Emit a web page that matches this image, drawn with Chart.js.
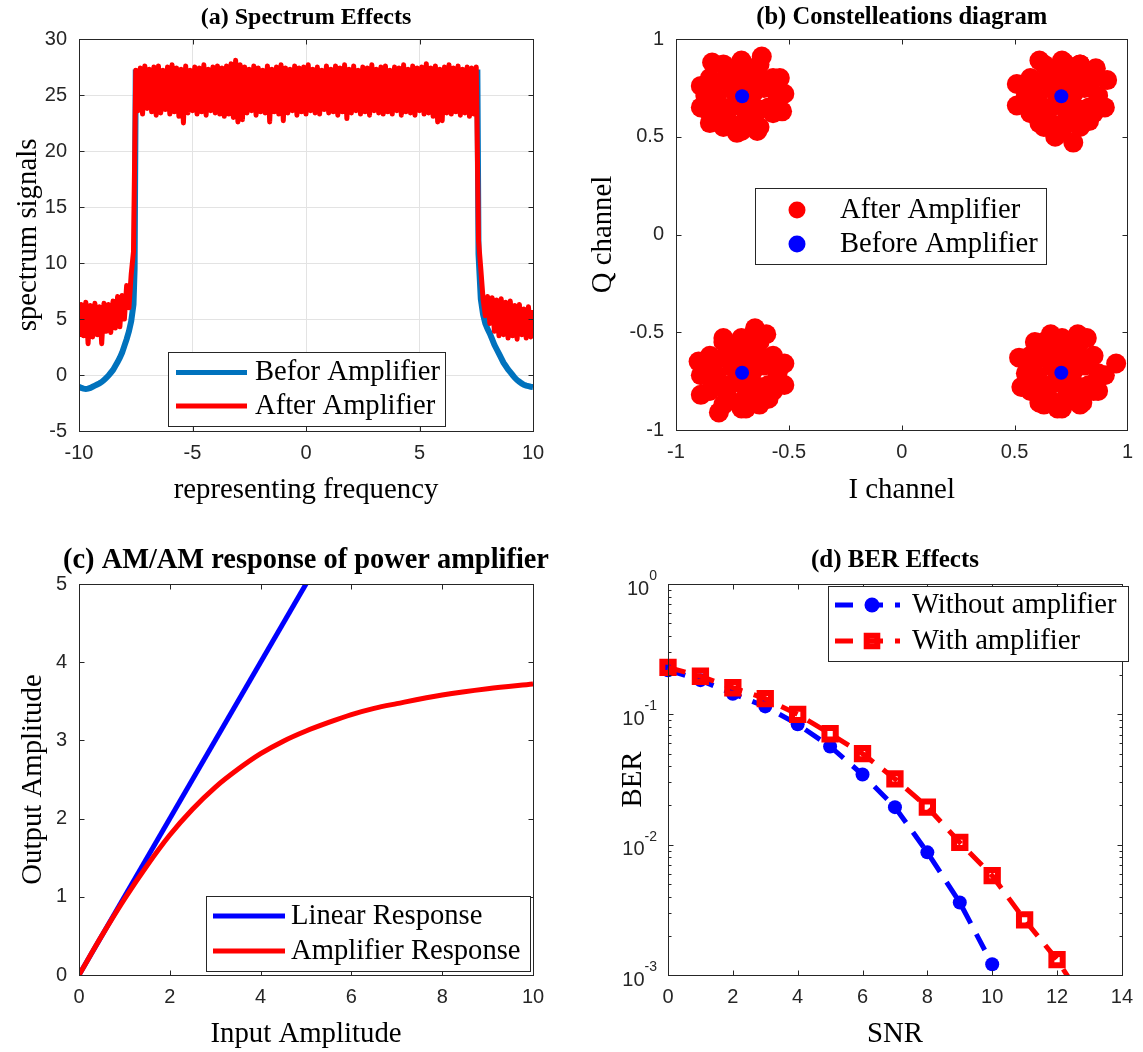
<!DOCTYPE html>
<html>
<head>
<meta charset="utf-8">
<title>Power amplifier effects</title>
<script src="https://cdn.jsdelivr.net/npm/chart.js@4.4.1/dist/chart.umd.min.js"></script>
<style>
  html, body { margin: 0; padding: 0; background: #fff; overflow: hidden; }
  #page { position: relative; width: 1143px; height: 1052px; }
  canvas { position: absolute; }
</style>
</head>
<body>
<div id="page">
  <canvas id="spectrumChart" width="571" height="526" style="left:0;top:0;width:571px;height:526px"></canvas>
  <canvas id="constChart" width="572" height="526" style="left:571px;top:0;width:572px;height:526px"></canvas>
  <canvas id="amamChart" width="571" height="526" style="left:0;top:526px;width:571px;height:526px"></canvas>
  <canvas id="berChart" width="572" height="526" style="left:571px;top:526px;width:572px;height:526px"></canvas>
</div>
<script>
// ---- (a) spectrum ----
// input spectrum, smooth skirts and flat passband
const beforeFreq = [
  -10, -9.9, -9.8, -9.7, -9.6, -9.5, -9.4, -9.3, -9.2, -9.1, -9.0, -8.9, -8.8, -8.7,
  -8.6, -8.5, -8.4, -8.3, -8.2, -8.1, -8.0, -7.9, -7.8, -7.7, -7.6, -7.55, -7.5,
  7.55, 7.6, 7.7, 7.8, 7.9, 8.0, 8.1, 8.2, 8.3, 8.4, 8.5, 8.6, 8.7, 8.8, 8.9, 9.0,
  9.1, 9.2, 9.3, 9.4, 9.5, 9.6, 9.7, 9.8, 9.9, 10
];
const beforeLevel = [
  -1.05, -1.15, -1.22, -1.25, -1.22, -1.15, -1.05, -0.95, -0.85, -0.75, -0.62, -0.45, -0.25, -0.05,
  0.2, 0.45, 0.8, 1.15, 1.55, 2.0, 2.6, 3.2, 3.9, 4.8, 6.3, 9.5, 27.0,
  27.0, 10.8, 6.8, 5.4, 4.6, 4.1, 3.7, 3.2, 2.7, 2.3, 1.9, 1.5, 1.1, 0.8, 0.5, 0.25,
  0.0, -0.25, -0.45, -0.6, -0.75, -0.87, -0.95, -1.0, -1.05, -1.08
];
// amplified spectrum, sampled every 0.1 from -10 to 10
const freqStep = 0.1;
const afterLevel = [
  3.4, 6.3, 3.5, 6.5, 2.8, 6.2, 3.4, 6.4, 3.6, 6.1,
  2.8, 6.4, 3.9, 6.3, 3.8, 6.6, 4.2, 7.0, 4.3, 7.1,
  5.0, 8.0, 6.0, 9.0, 11.0,
  27.2, 23.6, 27.4, 23.3, 27.6, 23.8, 27.3, 23.5, 27.5, 23.2,
  27.6, 23.4, 27.2, 23.7, 27.5, 23.3, 27.7, 23.5, 27.4, 23.1,
  27.3, 22.5, 27.6, 23.4, 27.2, 23.6, 27.5, 23.3, 27.4, 23.5,
  27.7, 23.2, 27.3, 23.6, 27.5, 23.4, 27.6, 23.3, 27.4, 23.1,
  27.6, 23.3, 27.8, 23.0, 28.1, 22.6, 27.7, 22.8, 27.5, 23.4,
  27.3, 23.6, 27.6, 23.2, 27.4, 23.5, 27.2, 23.4, 27.6, 22.6,
  27.3, 23.5, 27.5, 23.3, 27.7, 22.7, 27.4, 23.4, 27.3, 23.6,
  27.6, 23.2, 27.4, 23.5, 27.5, 23.3, 27.7, 23.6, 27.3, 23.4,
  27.5, 23.3, 27.2, 23.7, 27.6, 23.4, 27.3, 23.5, 27.6, 23.2,
  27.4, 23.5, 27.7, 22.9, 27.3, 23.4, 27.6, 23.6, 27.2, 23.3,
  27.5, 23.5, 27.4, 23.2, 27.7, 23.6, 27.3, 23.4, 27.5, 23.3,
  27.6, 23.5, 27.2, 23.3, 27.5, 23.6, 27.4, 23.2, 27.7, 23.5,
  27.3, 23.4, 27.6, 23.2, 27.4, 23.6, 27.5, 23.3, 27.8, 23.4,
  27.4, 23.1, 27.6, 22.6, 27.3, 22.7, 27.5, 23.4, 27.7, 23.3,
  27.4, 23.5, 27.6, 23.2, 27.3, 23.4, 27.5, 23.1, 27.4, 23.3,
  27.5, 12.0,
  9.5, 6.8, 5.3, 7.0, 4.6, 6.9, 3.9, 6.7, 3.5, 6.8,
  3.6, 6.5, 3.3, 6.6, 3.5, 6.2, 3.2, 6.3, 3.6, 5.9,
  3.3, 6.1, 3.4, 5.8
];
const afterFreq = afterLevel.map((_, i) => +(-10 + i * freqStep).toFixed(2));

// ---- (b) constellation ----
const symbolI = [-0.7071, 0.7071, -0.7071, 0.7071];
const symbolQ = [0.7071, 0.7071, -0.7071, -0.7071];
const rxUpperLeft = [
  [-0.71, 0.71], [-0.66, 0.72], [-0.75, 0.74], [-0.70, 0.65], [-0.73, 0.77],
  [-0.66, 0.77], [-0.76, 0.77], [-0.76, 0.65], [-0.66, 0.65],
  [-0.61, 0.75], [-0.64, 0.81], [-0.72, 0.83], [-0.79, 0.79], [-0.82, 0.70], [-0.78, 0.62], [-0.69, 0.59], [-0.63, 0.64],
  [-0.59, 0.77], [-0.66, 0.85], [-0.76, 0.85], [-0.83, 0.77], [-0.83, 0.65], [-0.76, 0.57], [-0.66, 0.57], [-0.59, 0.65],
  [-0.55, 0.71], [-0.57, 0.80], [-0.63, 0.87], [-0.71, 0.89], [-0.79, 0.87], [-0.85, 0.80], [-0.87, 0.71],
  [-0.85, 0.62], [-0.79, 0.55], [-0.71, 0.53], [-0.63, 0.55], [-0.57, 0.62],
  [-0.62, 0.91], [-0.84, 0.88], [-0.89, 0.76], [-0.89, 0.65], [-0.85, 0.57], [-0.73, 0.52],
  [-0.64, 0.53], [-0.54, 0.80], [-0.52, 0.72], [-0.53, 0.63]
];
const rxUpperRight = [
  [0.71, 0.71], [0.76, 0.72], [0.67, 0.74], [0.72, 0.65], [0.69, 0.77],
  [0.76, 0.77], [0.66, 0.77], [0.66, 0.65], [0.76, 0.65],
  [0.81, 0.75], [0.78, 0.81], [0.70, 0.83], [0.63, 0.79], [0.60, 0.70], [0.64, 0.62], [0.73, 0.59], [0.79, 0.64],
  [0.83, 0.77], [0.76, 0.85], [0.66, 0.85], [0.59, 0.77], [0.59, 0.65], [0.66, 0.57], [0.76, 0.57], [0.83, 0.65],
  [0.87, 0.71], [0.85, 0.80], [0.79, 0.87], [0.71, 0.89], [0.63, 0.87], [0.57, 0.80], [0.55, 0.71],
  [0.57, 0.62], [0.63, 0.55], [0.71, 0.53], [0.79, 0.55], [0.85, 0.62],
  [0.61, 0.89], [0.72, 0.88], [0.79, 0.87], [0.86, 0.85], [0.91, 0.79], [0.90, 0.65],
  [0.83, 0.58], [0.76, 0.47], [0.68, 0.50], [0.51, 0.77], [0.51, 0.66], [0.61, 0.57]
];
const rxLowerLeft = [
  [-0.71, -0.71], [-0.66, -0.70], [-0.75, -0.68], [-0.70, -0.77], [-0.73, -0.65],
  [-0.66, -0.65], [-0.76, -0.65], [-0.76, -0.77], [-0.66, -0.77],
  [-0.61, -0.67], [-0.64, -0.61], [-0.72, -0.59], [-0.79, -0.63], [-0.82, -0.72], [-0.78, -0.80], [-0.69, -0.83], [-0.63, -0.78],
  [-0.59, -0.65], [-0.66, -0.57], [-0.76, -0.57], [-0.83, -0.65], [-0.83, -0.77], [-0.76, -0.85], [-0.66, -0.85], [-0.59, -0.77],
  [-0.55, -0.71], [-0.57, -0.62], [-0.63, -0.55], [-0.71, -0.53], [-0.79, -0.55], [-0.85, -0.62], [-0.87, -0.71],
  [-0.85, -0.80], [-0.79, -0.87], [-0.71, -0.89], [-0.63, -0.87], [-0.57, -0.80],
  [-0.65, -0.48], [-0.79, -0.53], [-0.60, -0.51], [-0.90, -0.65], [-0.89, -0.82], [-0.52, -0.66],
  [-0.52, -0.77], [-0.81, -0.91], [-0.69, -0.89], [-0.59, -0.84], [-0.89, -0.72]
];
const rxLowerRight = [
  [0.71, -0.71], [0.76, -0.70], [0.67, -0.68], [0.72, -0.77], [0.69, -0.65],
  [0.76, -0.65], [0.66, -0.65], [0.66, -0.77], [0.76, -0.77],
  [0.81, -0.67], [0.78, -0.61], [0.70, -0.59], [0.63, -0.63], [0.60, -0.72], [0.64, -0.80], [0.73, -0.83], [0.79, -0.78],
  [0.83, -0.65], [0.76, -0.57], [0.66, -0.57], [0.59, -0.65], [0.59, -0.77], [0.66, -0.85], [0.76, -0.85], [0.83, -0.77],
  [0.87, -0.71], [0.85, -0.62], [0.79, -0.55], [0.71, -0.53], [0.63, -0.55], [0.57, -0.62], [0.55, -0.71],
  [0.57, -0.80], [0.63, -0.87], [0.71, -0.89], [0.79, -0.87], [0.85, -0.80],
  [0.66, -0.51], [0.78, -0.51], [0.82, -0.53], [0.95, -0.66], [0.90, -0.72], [0.87, -0.80],
  [0.80, -0.86], [0.69, -0.89], [0.61, -0.86], [0.52, -0.63], [0.53, -0.78], [0.59, -0.55]
];

// ---- (c) AM/AM ----
const linearIn = [0, 10];
const linearOut = [0, 10];
const ampIn = [0, 0.5, 1, 1.5, 2, 2.5, 3, 3.5, 4, 4.5, 5, 5.5, 6, 6.5, 7, 8, 9, 10];
const ampOut = [0, 0.5, 0.97, 1.40, 1.79, 2.12, 2.40, 2.63, 2.83, 2.99, 3.12, 3.23, 3.33, 3.41, 3.47, 3.58, 3.66, 3.72];

// ---- (d) BER ----
const snrDb = [0, 1, 2, 3, 4, 5, 6, 7, 8, 9, 10, 11, 12, 13];
const berWithout = [0.218, 0.183, 0.144, 0.115, 0.0838, 0.0567, 0.0345, 0.0194, 0.00873, 0.0036, 0.00121];
const berWith = [0.229, 0.196, 0.160, 0.132, 0.100, 0.071, 0.0499, 0.032, 0.0194, 0.0104, 0.00578, 0.00265, 0.00131, 0.00054];
const berDecades = [0, -1, -2, -3];

const AXIS_COLOR = "#262626";
const GRID_COLOR = "#e3e3e3";
const SERIF = "'Liberation Serif', 'Times New Roman', serif";
const SANS = "'Liberation Sans', Arial, sans-serif";

function toPoints(xs, ys) {
  return ys.map((y, i) => ({ x: xs[i], y: y }));
}
function pairsToPoints(pairs) {
  return pairs.map(p => ({ x: p[0], y: p[1] }));
}

// bold title centred over the plot area (may run wider than the axes)
function plotTitle(cfg) {
  return {
    id: "plotTitle",
    afterDraw(chart) {
      const ctx = chart.ctx;
      const a = chart.chartArea;
      ctx.save();
      ctx.fillStyle = "#000";
      ctx.font = "bold " + cfg.size + "px " + SERIF;
      ctx.textAlign = "center";
      ctx.textBaseline = "middle";
      ctx.fillText(cfg.text, (a.left + a.right) / 2, cfg.y);
      ctx.restore();
    }
  };
}

// box around the plot area, with tick marks pointing inwards on all sides
function boxTicks(cfg) {
  return {
    id: "boxTicks",
    afterDatasetsDraw(chart) {
      const ctx = chart.ctx;
      const a = chart.chartArea;
      const xs = chart.scales.x;
      const ys = chart.scales.y;
      const L = Math.round(a.left) + 0.5, R = Math.round(a.right) + 0.5;
      const T = Math.round(a.top) + 0.5, B = Math.round(a.bottom) + 0.5;
      ctx.save();
      ctx.strokeStyle = AXIS_COLOR;
      ctx.lineWidth = 1;
      ctx.beginPath();
      xs.ticks.forEach(t => {
        const px = Math.round(xs.getPixelForValue(t.value)) + 0.5;
        ctx.moveTo(px, B); ctx.lineTo(px, B - 5);
        ctx.moveTo(px, T); ctx.lineTo(px, T + 5);
      });
      let yMarks;
      if (cfg && cfg.logDecades) {
        yMarks = [];
        cfg.logDecades.forEach(p => {
          yMarks.push({ v: Math.pow(10, p), len: 5 });
          if (p > cfg.logDecades[cfg.logDecades.length - 1]) {
            for (let m = 2; m <= 9; m++) yMarks.push({ v: m * Math.pow(10, p - 1), len: 3 });
          }
        });
      } else {
        yMarks = ys.ticks.map(t => ({ v: t.value, len: 5 }));
      }
      yMarks.forEach(m => {
        const py = Math.round(ys.getPixelForValue(m.v)) + 0.5;
        ctx.moveTo(L, py); ctx.lineTo(L + m.len, py);
        ctx.moveTo(R, py); ctx.lineTo(R - m.len, py);
      });
      ctx.stroke();
      ctx.strokeRect(L, T, R - L, B - T);
      ctx.restore();
    }
  };
}

// legend drawn as a framed box inside the plot area
function boxLegend(cfg) {
  return {
    id: "boxLegend",
    afterDraw(chart) {
      const ctx = chart.ctx;
      ctx.save();
      ctx.fillStyle = "#fff";
      ctx.fillRect(cfg.x, cfg.y, cfg.w, cfg.h);
      ctx.strokeStyle = AXIS_COLOR;
      ctx.lineWidth = 1;
      ctx.strokeRect(cfg.x + 0.5, cfg.y + 0.5, cfg.w, cfg.h);
      cfg.items.forEach((idx, i) => {
        const ds = chart.data.datasets[idx];
        const cy = cfg.rows[i];
        if (cfg.lineFrom !== undefined) {
          ctx.setLineDash(ds.borderDash || []);
          ctx.strokeStyle = ds.borderColor;
          ctx.lineWidth = cfg.lineWidth || ds.borderWidth;
          ctx.beginPath();
          ctx.moveTo(cfg.lineFrom, cy);
          ctx.lineTo(cfg.lineTo, cy);
          ctx.stroke();
          ctx.setLineDash([]);
        }
        if (cfg.markerX !== undefined && ds.pointRadius > 0) {
          ctx.fillStyle = ds.pointBackgroundColor;
          ctx.strokeStyle = ds.pointBorderColor;
          ctx.lineWidth = ds.pointBorderWidth;
          Chart.helpers.drawPoint(ctx, {
            pointStyle: ds.pointStyle,
            radius: cfg.markerRadius || ds.pointRadius,
            borderWidth: ds.pointBorderWidth,
            rotation: 0
          }, cfg.markerX, cy);
        }
        ctx.fillStyle = "#000";
        ctx.font = "28.6px " + SERIF;
        ctx.textAlign = "left";
        ctx.textBaseline = "middle";
        ctx.fillText(ds.label, cfg.textX, cy);
      });
      ctx.restore();
    }
  };
}

// 10^n labels for the logarithmic axis
function logLabels(decades) {
  return {
    id: "logLabels",
    afterDraw(chart) {
      const ctx = chart.ctx;
      const ys = chart.scales.y;
      const left = chart.chartArea.left;
      ctx.save();
      ctx.fillStyle = AXIS_COLOR;
      ctx.textBaseline = "middle";
      decades.forEach(p => {
        const py = ys.getPixelForValue(Math.pow(10, p));
        const exp = String(p);
        ctx.font = "14px " + SANS;
        const ew = ctx.measureText(exp).width;
        const expX = left - 11 - ew;
        ctx.textAlign = "left";
        ctx.fillText(exp, expX, py - 8);
        ctx.font = "20px " + SANS;
        ctx.textAlign = "right";
        ctx.fillText("10", expX, py + 5);
      });
      ctx.restore();
    }
  };
}

function axisConfig(o) {
  return {
    type: o.type || "linear",
    min: o.min,
    max: o.max,
    ticks: {
      display: o.ticks !== false,
      stepSize: o.step,
      color: AXIS_COLOR,
      font: { family: SANS, size: 20 },
      padding: o.tickPad,
      autoSkip: false,
      maxRotation: 0,
      callback: v => String(Number(Number(v).toFixed(2)))
    },
    grid: { display: !!o.grid, color: GRID_COLOR, lineWidth: 1, drawTicks: false },
    border: { display: false },
    title: {
      display: true,
      text: o.title,
      color: "#000",
      font: { family: SERIF, size: 28.8 },
      padding: o.titlePad
    },
    afterFit: o.fit
  };
}

function chartOptions(o) {
  return {
    responsive: false,
    animation: false,
    devicePixelRatio: 1,
    events: [],
    layout: { padding: { left: 0, top: o.padTop, right: o.padRight, bottom: 0 } },
    plugins: {
      legend: { display: false },
      tooltip: { enabled: false },
      title: { display: false }
    },
    scales: { x: o.x, y: o.y }
  };
}

// (a) Spectrum Effects
new Chart(document.getElementById("spectrumChart"), {
  type: "scatter",
  data: {
    datasets: [
      {
        label: "Befor Amplifier",
        data: toPoints(beforeFreq, beforeLevel),
        showLine: true,
        borderColor: "#0072bd",
        borderWidth: 6,
        pointRadius: 0,
        order: 1
      },
      {
        label: "After Amplifier",
        data: toPoints(afterFreq, afterLevel),
        showLine: true,
        borderColor: "#ff0000",
        borderWidth: 5,
        borderJoinStyle: "round",
        pointRadius: 0,
        order: 0
      }
    ]
  },
  options: chartOptions({
    padTop: 39,
    padRight: 38,
    x: axisConfig({ min: -10, max: 10, step: 5, grid: true, tickPad: 10, title: "representing frequency",
      titlePad: { top: 0, bottom: 18 }, fit: s => { s.height = 95; } }),
    y: axisConfig({ min: -5, max: 30, step: 5, grid: true, tickPad: 12, title: "spectrum signals",
      titlePad: { top: 11, bottom: 0 }, fit: s => { s.width = 79; } })
  }),
  plugins: [
    boxTicks(),
    plotTitle({ text: "(a) Spectrum Effects", size: 24, y: 18 }),
    boxLegend({ x: 168, y: 352, w: 277, h: 74, items: [0, 1], rows: [372.5, 406],
      lineFrom: 176, lineTo: 247, lineWidth: 5, textX: 255 })
  ]
});

// (b) Constellation diagram
new Chart(document.getElementById("constChart"), {
  type: "scatter",
  data: {
    datasets: [
      {
        label: "After Amplifier",
        data: pairsToPoints(rxUpperLeft.concat(rxUpperRight, rxLowerLeft, rxLowerRight)),
        pointStyle: "circle",
        pointRadius: 10,
        pointBorderWidth: 0,
        pointBackgroundColor: "#ff0000",
        pointBorderColor: "#ff0000",
        backgroundColor: "#ff0000",
        clip: false,
        order: 1
      },
      {
        label: "Before Amplifier",
        data: toPoints(symbolI, symbolQ),
        pointStyle: "circle",
        pointRadius: 7,
        pointBorderWidth: 0,
        pointBackgroundColor: "#0000ff",
        pointBorderColor: "#0000ff",
        backgroundColor: "#0000ff",
        clip: false,
        order: 0
      }
    ]
  },
  options: chartOptions({
    padTop: 39,
    padRight: 11,
    x: axisConfig({ min: -1, max: 1, step: 0.5, tickPad: 10, title: "I channel",
      titlePad: { top: 0, bottom: 18 }, fit: s => { s.height = 96; } }),
    y: axisConfig({ min: -1, max: 1, step: 0.5, tickPad: 12, title: "Q channel",
      titlePad: { top: 15, bottom: 0 }, fit: s => { s.width = 105; } })
  }),
  plugins: [
    boxTicks(),
    plotTitle({ text: "(b) Constelleations diagram", size: 24.6, y: 18 }),
    boxLegend({ x: 184, y: 188, w: 291, h: 76, items: [0, 1], rows: [210, 244],
      markerX: 226, markerRadius: 8.5, textX: 269 })
  ]
});

// (c) AM/AM response
new Chart(document.getElementById("amamChart"), {
  type: "scatter",
  data: {
    datasets: [
      {
        label: "Linear Response",
        data: toPoints(linearIn, linearOut),
        showLine: true,
        borderColor: "#0000ff",
        borderWidth: 5,
        pointRadius: 0,
        order: 1
      },
      {
        label: "Amplifier Response",
        data: toPoints(ampIn, ampOut),
        showLine: true,
        borderColor: "#ff0000",
        borderWidth: 5,
        cubicInterpolationMode: "monotone",
        pointRadius: 0,
        order: 0
      }
    ]
  },
  options: chartOptions({
    padTop: 58,
    padRight: 38,
    x: axisConfig({ min: 0, max: 10, step: 2, tickPad: 10, title: "Input Amplitude",
      titlePad: { top: 0, bottom: 0 }, fit: s => { s.height = 77; } }),
    y: axisConfig({ min: 0, max: 5, step: 1, tickPad: 12, title: "Output Amplitude",
      titlePad: { top: 16, bottom: 0 }, fit: s => { s.width = 79; } })
  }),
  plugins: [
    boxTicks(),
    plotTitle({ text: "(c) AM/AM response of power amplifier", size: 28.4, y: 35 }),
    boxLegend({ x: 206, y: 370, w: 324, h: 75, items: [0, 1], rows: [390, 425],
      lineFrom: 213, lineTo: 285, lineWidth: 5, textX: 291 })
  ]
});

// (d) BER Effects
new Chart(document.getElementById("berChart"), {
  type: "scatter",
  data: {
    datasets: [
      {
        label: "Without amplifier",
        data: toPoints(snrDb, berWithout),
        showLine: true,
        borderColor: "#0000ff",
        borderWidth: 5,
        borderDash: [18, 12],
        pointStyle: "circle",
        pointRadius: 7,
        pointBorderWidth: 0,
        pointBackgroundColor: "#0000ff",
        pointBorderColor: "#0000ff",
        clip: { left: 15, top: 5, right: 5, bottom: 0 },
        order: 1
      },
      {
        label: "With amplifier",
        data: toPoints(snrDb, berWith),
        showLine: true,
        borderColor: "#ff0000",
        borderWidth: 5,
        borderDash: [18, 12],
        pointStyle: "rect",
        pointRadius: 8,
        pointBorderWidth: 6,
        pointBackgroundColor: "rgba(255,255,255,0)",
        pointBorderColor: "#ff0000",
        clip: { left: 15, top: 5, right: 5, bottom: 0 },
        order: 0
      }
    ]
  },
  options: chartOptions({
    padTop: 58,
    padRight: 12,
    x: axisConfig({ min: 0, max: 14, step: 2, tickPad: 10, title: "SNR",
      titlePad: { top: 0, bottom: 0 }, fit: s => { s.height = 77; } }),
    y: axisConfig({ type: "logarithmic", min: 0.001, max: 1, ticks: false, title: "BER",
      titlePad: { top: 45, bottom: 0 }, fit: s => { s.width = 97; } })
  }),
  plugins: [
    boxTicks({ logDecades: berDecades }),
    logLabels(berDecades),
    plotTitle({ text: "(d) BER Effects", size: 25, y: 35 }),
    boxLegend({ x: 257, y: 60, w: 300, h: 75, items: [0, 1], rows: [79, 115],
      lineFrom: 264, lineTo: 329, markerX: 301, markerRadius: 7.5, textX: 341 })
  ]
});
</script>
</body>
</html>
